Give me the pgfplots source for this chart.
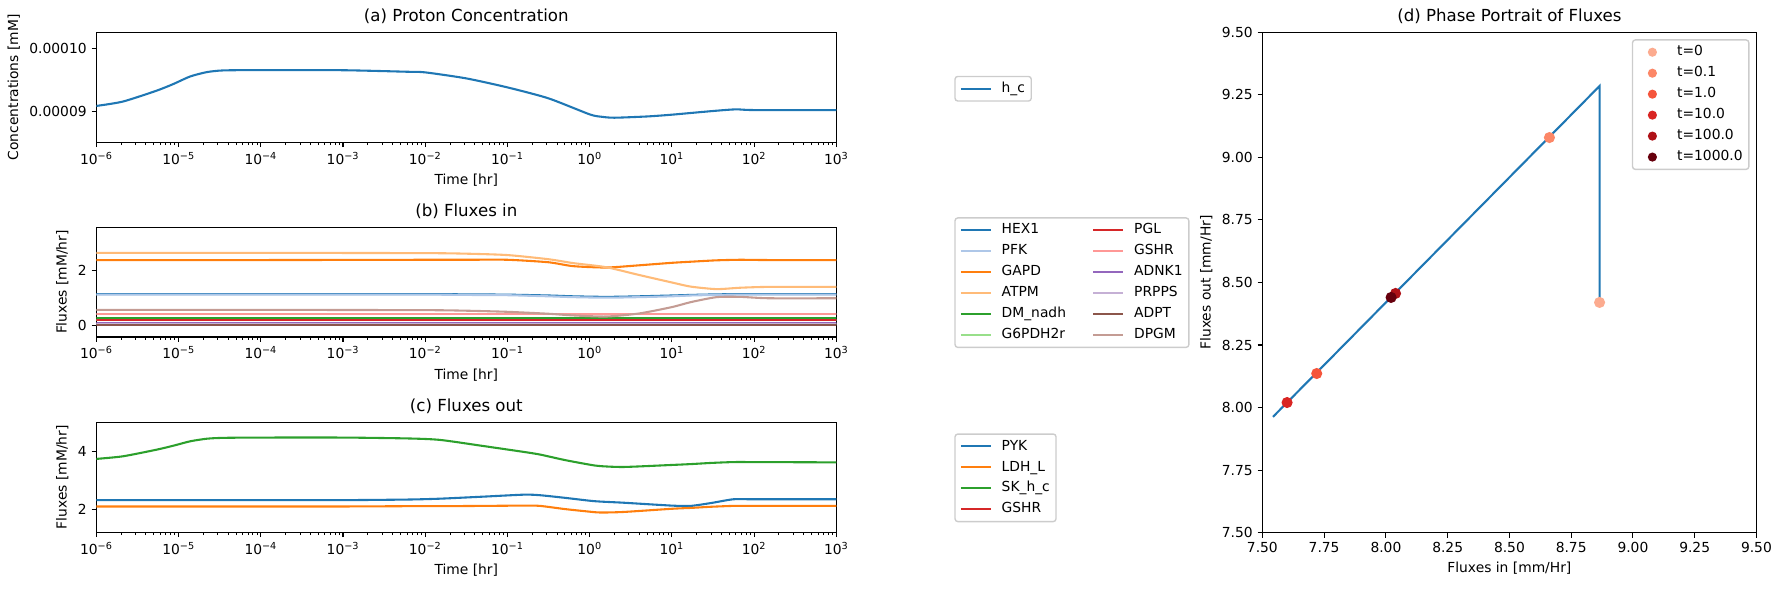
\documentclass[border=0pt]{standalone}
\usepackage{fontspec}
\setmainfont{DejaVu Sans}
\usepackage{pgfplots}
\usepackage{pgfplotstable}
\pgfplotsset{compat=1.18}
\pgfkeys{/pgf/number format/assume math mode=true}

% tab10 / tab20 colours
\definecolor{c1}{HTML}{1F77B4}
\definecolor{c1l}{HTML}{AEC7E8}
\definecolor{c2}{HTML}{FF7F0E}
\definecolor{c2l}{HTML}{FFBB78}
\definecolor{c3}{HTML}{2CA02C}
\definecolor{c3l}{HTML}{98DF8A}
\definecolor{c4}{HTML}{D62728}
\definecolor{c4l}{HTML}{FF9896}
\definecolor{c5}{HTML}{9467BD}
\definecolor{c5l}{HTML}{C5B0D5}
\definecolor{c6}{HTML}{8C564B}
\definecolor{c6l}{HTML}{C49C94}
% Reds colormap samples
\definecolor{r0}{HTML}{FCAB8F}
\definecolor{r1}{HTML}{FC8767}
\definecolor{r2}{HTML}{F5553C}
\definecolor{r3}{HTML}{D92523}
\definecolor{r4}{HTML}{AE1117}
\definecolor{r5}{HTML}{67000D}

\newcommand{\dec}[1]{10\textsuperscript{#1}}

% proton concentration, in units of 1e-5 mM
\pgfplotstableread{
t       h
1e-6    9.091
2.1e-6  9.160
5.4e-6  9.332
8.7e-6  9.439
1.38e-5 9.556
2.2e-5  9.625
3.5e-5  9.652
1e-4    9.657
1e-3    9.655
6e-3    9.631
1e-2    9.621
3.16e-2 9.526
0.1     9.384
0.316   9.211
1       8.958
1.4     8.920
2       8.905
5       8.925
10      8.953
31.6    9.011
60      9.037
100     9.026
1000    9.026
}\protontab

\pgfplotstableread{
t       hex  pfk  gapd atpm dmn  g6p  pgl  gshr adnk prpps adpt dpgm
1e-6    1.15 1.13 2.38 2.64 0.28 0.20 0.23 0.44 0.12 0.07 0.02 0.58
1e-4    1.15 1.13 2.38 2.64 0.28 0.20 0.23 0.44 0.12 0.07 0.02 0.58
1e-2    1.15 1.13 2.39 2.63 0.28 0.20 0.23 0.44 0.12 0.07 0.02 0.57
3.16e-2 1.14 1.12 2.39 2.61 0.28 0.20 0.23 0.44 0.12 0.07 0.02 0.55
0.1     1.13 1.11 2.39 2.56 0.28 0.20 0.23 0.44 0.12 0.07 0.02 0.51
0.316   1.10 1.07 2.30 2.41 0.28 0.20 0.23 0.44 0.12 0.07 0.02 0.44
0.63    1.07 1.04 2.16 2.27 0.28 0.20 0.23 0.44 0.12 0.07 0.02 0.38
1.6     1.05 1.02 2.11 2.12 0.28 0.20 0.23 0.44 0.12 0.07 0.02 0.34
4       1.07 1.04 2.19 1.84 0.28 0.20 0.23 0.44 0.12 0.07 0.02 0.45
10      1.10 1.07 2.28 1.57 0.28 0.20 0.23 0.44 0.12 0.07 0.02 0.68
17      1.12 1.10 2.32 1.42 0.28 0.20 0.23 0.44 0.12 0.07 0.02 0.86
35      1.14 1.12 2.37 1.33 0.28 0.20 0.23 0.44 0.12 0.07 0.02 1.04
68      1.15 1.13 2.39 1.38 0.28 0.20 0.23 0.44 0.12 0.07 0.02 1.05
150     1.15 1.13 2.38 1.41 0.28 0.20 0.23 0.44 0.12 0.07 0.02 1.00
1000    1.15 1.13 2.38 1.41 0.28 0.20 0.23 0.44 0.12 0.07 0.02 1.00
}\fluxintab

\pgfplotstableread{
t       pyk  ldh  sk   gshr
1e-6    2.32 2.10 3.75 0.45
2.1e-6  2.32 2.10 3.84 0.45
5.4e-6  2.32 2.10 4.07 0.45
8.7e-6  2.32 2.10 4.21 0.45
1.38e-5 2.32 2.10 4.36 0.45
2.2e-5  2.32 2.10 4.45 0.45
3.5e-5  2.32 2.10 4.48 0.45
1e-4    2.32 2.10 4.49 0.45
1e-3    2.32 2.10 4.49 0.45
6e-3    2.34 2.11 4.46 0.45
1.5e-2  2.37 2.11 4.41 0.45
5e-2    2.44 2.12 4.20 0.45
0.16    2.51 2.13 3.99 0.45
0.25    2.49 2.12 3.90 0.45
0.5     2.40 2.01 3.71 0.45
1       2.30 1.92 3.55 0.45
1.35    2.27 1.89 3.50 0.45
2.6     2.23 1.91 3.47 0.45
10      2.13 2.02 3.54 0.45
17      2.12 2.05 3.57 0.45
30      2.22 2.09 3.61 0.45
56      2.35 2.12 3.64 0.45
100     2.35 2.12 3.64 0.45
1000    2.35 2.12 3.63 0.45
}\fluxouttab

\pgfplotsset{
  mpl/.style={
    scale only axis,
    axis line style={line width=0.8bp},
    tick pos=left,
    tick align=outside,
    major tick length=3.5bp,
    minor tick length=2bp,
    every tick/.style={black, line width=0.8bp},
    every minor tick/.style={black, line width=0.6bp},
    tick label style={font=\fontsize{10}{12}\selectfont},
    label style={font=\fontsize{10}{12}\selectfont},
    every axis title/.style={at={(0.5,1)}, anchor=south, inner sep=0pt, yshift=6bp,
      font=\fontsize{12}{14.4}\selectfont},
    every axis plot/.append style={line width=1.5bp},
    legend cell align=left,
    legend style={draw=black!20, rounded corners=2bp, fill=white, fill opacity=0.8,
      text opacity=1, draw opacity=1, line width=1bp,
      font=\fontsize{10}{12}\selectfont, inner xsep=3.5bp, inner ysep=3bp,
      row sep=3.4bp, column sep=6bp,
      nodes={inner xsep=1bp, inner ysep=1bp, text height=7.5bp, text depth=2.2bp}},
    legend image code/.code={\draw[#1] (0bp,0bp) -- (21.6bp,0bp);},
  },
  logtime/.style={
    xmin=1e-6, xmax=1e3,
    xtick={1e-6,1e-5,1e-4,1e-3,1e-2,1e-1,1,10,100,1000},
    xticklabels={\dec{−6},\dec{−5},\dec{−4},\dec{−3},\dec{−2},\dec{−1},\dec{0},\dec{1},\dec{2},\dec{3}},
    minor xtick={2e-6,3e-6,4e-6,5e-6,6e-6,7e-6,8e-6,9e-6,
                 2e-5,3e-5,4e-5,5e-5,6e-5,7e-5,8e-5,9e-5,
                 2e-4,3e-4,4e-4,5e-4,6e-4,7e-4,8e-4,9e-4,
                 2e-3,3e-3,4e-3,5e-3,6e-3,7e-3,8e-3,9e-3,
                 0.02,0.03,0.04,0.05,0.06,0.07,0.08,0.09,
                 0.2,0.3,0.4,0.5,0.6,0.7,0.8,0.9,
                 2,3,4,5,6,7,8,9,
                 20,30,40,50,60,70,80,90,
                 200,300,400,500,600,700,800,900},
    xlabel={Time [hr]},
  },
  flux/.style={smooth, tension=0.4},
}

\begin{document}
\begin{tikzpicture}
\useasboundingbox (0,0) rectangle (1282.3bp,424.8bp);

% (a) proton concentration
\begin{semilogxaxis}[mpl, logtime,
  at={(69.4bp,322.3bp)}, anchor=south west,
  width=532.7bp, height=79.2bp,
  ymin=8.516, ymax=10.253,
  ytick={9,10}, yticklabels={0.00009,0.00010},
  ylabel={Concentrations [mM]},
  title={(a) Proton Concentration},
  legend style={at={(1.1596,0.6055)}, anchor=north west},
]
\addplot[c1, flux] table[x=t, y=h] {\protontab};
\addlegendentry{h\_c}
\end{semilogxaxis}

% (b) fluxes in
\begin{semilogxaxis}[mpl, logtime,
  at={(69.4bp,182.2bp)}, anchor=south west,
  width=532.7bp, height=79bp,
  ymin=-0.398, ymax=3.566,
  ytick={0,2},
  ylabel={Fluxes [mM/hr]},
  title={(b) Fluxes in},
  legend columns=2,
  legend style={at={(1.1596,1.0909)}, anchor=north west,
    /tikz/every even column/.append style={column sep=18bp}},
]
\addplot[c1,  flux, forget plot] table[x=t, y=hex]   {\fluxintab};
\addplot[c1l, flux, forget plot] table[x=t, y=pfk]   {\fluxintab};
\addplot[c2,  flux, forget plot] table[x=t, y=gapd]  {\fluxintab};
\addplot[c2l, flux, forget plot] table[x=t, y=atpm]  {\fluxintab};
\addplot[c3,  flux, forget plot] table[x=t, y=dmn]   {\fluxintab};
\addplot[c3l, flux, forget plot] table[x=t, y=g6p]   {\fluxintab};
\addplot[c4,  flux, forget plot] table[x=t, y=pgl]   {\fluxintab};
\addplot[c4l, flux, forget plot] table[x=t, y=gshr]  {\fluxintab};
\addplot[c5,  flux, forget plot] table[x=t, y=adnk]  {\fluxintab};
\addplot[c5l, flux, forget plot] table[x=t, y=prpps] {\fluxintab};
\addplot[c6,  flux, forget plot] table[x=t, y=adpt]  {\fluxintab};
\addplot[c6l, flux, forget plot] table[x=t, y=dpgm]  {\fluxintab};
% legend filled column by column
\addlegendimage{c1, line width=1.5bp}  \addlegendentry{HEX1}
\addlegendimage{c4, line width=1.5bp}  \addlegendentry{PGL}
\addlegendimage{c1l, line width=1.5bp} \addlegendentry{PFK}
\addlegendimage{c4l, line width=1.5bp} \addlegendentry{GSHR}
\addlegendimage{c2, line width=1.5bp}  \addlegendentry{GAPD}
\addlegendimage{c5, line width=1.5bp}  \addlegendentry{ADNK1}
\addlegendimage{c2l, line width=1.5bp} \addlegendentry{ATPM}
\addlegendimage{c5l, line width=1.5bp} \addlegendentry{PRPPS}
\addlegendimage{c3, line width=1.5bp}  \addlegendentry{DM\_nadh}
\addlegendimage{c6, line width=1.5bp}  \addlegendentry{ADPT}
\addlegendimage{c3l, line width=1.5bp} \addlegendentry{G6PDH2r}
\addlegendimage{c6l, line width=1.5bp} \addlegendentry{DPGM}
\end{semilogxaxis}

% (c) fluxes out
\begin{semilogxaxis}[mpl, logtime,
  at={(69.4bp,41.5bp)}, anchor=south west,
  width=532.7bp, height=79.2bp,
  ymin=1.202, ymax=5.017,
  ytick={2,4},
  ylabel={Fluxes [mM/hr]},
  title={(c) Fluxes out},
  legend style={at={(1.1596,0.9)}, anchor=north west},
]
\addplot[c1, flux] table[x=t, y=pyk]  {\fluxouttab};
\addlegendentry{PYK}
\addplot[c2, flux] table[x=t, y=ldh]  {\fluxouttab};
\addlegendentry{LDH\_L}
\addplot[c3, flux] table[x=t, y=sk]   {\fluxouttab};
\addlegendentry{SK\_h\_c}
\addplot[c4, flux] table[x=t, y=gshr] {\fluxouttab};
\addlegendentry{GSHR}
\end{semilogxaxis}

% (d) phase portrait
\begin{axis}[mpl,
  at={(908.9bp,41.3bp)}, anchor=south west,
  width=355.7bp, height=360.3bp,
  xmin=7.5, xmax=9.5, ymin=7.5, ymax=9.5,
  xtick={7.5,7.75,...,9.5}, ytick={7.5,7.75,...,9.5},
  xticklabel style={/pgf/number format/fixed, /pgf/number format/precision=2, /pgf/number format/zerofill},
  yticklabel style={/pgf/number format/fixed, /pgf/number format/precision=2, /pgf/number format/zerofill},
  xlabel={Fluxes in [mm/Hr]},
  ylabel={Fluxes out [mm/Hr]},
  title={(d) Phase Portrait of Fluxes},
  legend style={at={(0.986,0.986)}, anchor=north east},
  legend image code/.code={\path[draw=none, fill=none] (0bp,0bp) -- (21.6bp,0bp);
    \path[#1, draw=none, fill opacity=1] (10.8bp,0bp) circle[radius=3.3bp];},
]
\addplot[c1, forget plot] coordinates {
  (8.865,8.420) (8.865,9.285) (8.665,9.085) (8.040,8.460) (7.720,8.140)
  (7.600,8.020) (7.543,7.963) (7.600,8.020) (8.020,8.440) (8.038,8.458)
};
\addplot[only marks, mark=*, mark size=3.2bp, r0, forget plot] coordinates {(8.865,8.420)};
\addplot[only marks, mark=*, mark size=3.2bp, r1, forget plot] coordinates {(8.662,9.079)};
\addplot[only marks, mark=*, mark size=3.2bp, r2, forget plot] coordinates {(7.720,8.136)};
\addplot[only marks, mark=*, mark size=3.2bp, r3, forget plot] coordinates {(7.600,8.020)};
\addplot[only marks, mark=*, mark size=3.2bp, r4, forget plot] coordinates {(8.039,8.456)};
\addplot[only marks, mark=*, mark size=3.2bp, r5, forget plot] coordinates {(8.021,8.440)};
\addlegendimage{fill=r0} \addlegendentry{t=0}
\addlegendimage{fill=r1} \addlegendentry{t=0.1}
\addlegendimage{fill=r2} \addlegendentry{t=1.0}
\addlegendimage{fill=r3} \addlegendentry{t=10.0}
\addlegendimage{fill=r4} \addlegendentry{t=100.0}
\addlegendimage{fill=r5} \addlegendentry{t=1000.0}
\end{axis}
\end{tikzpicture}
\end{document}
